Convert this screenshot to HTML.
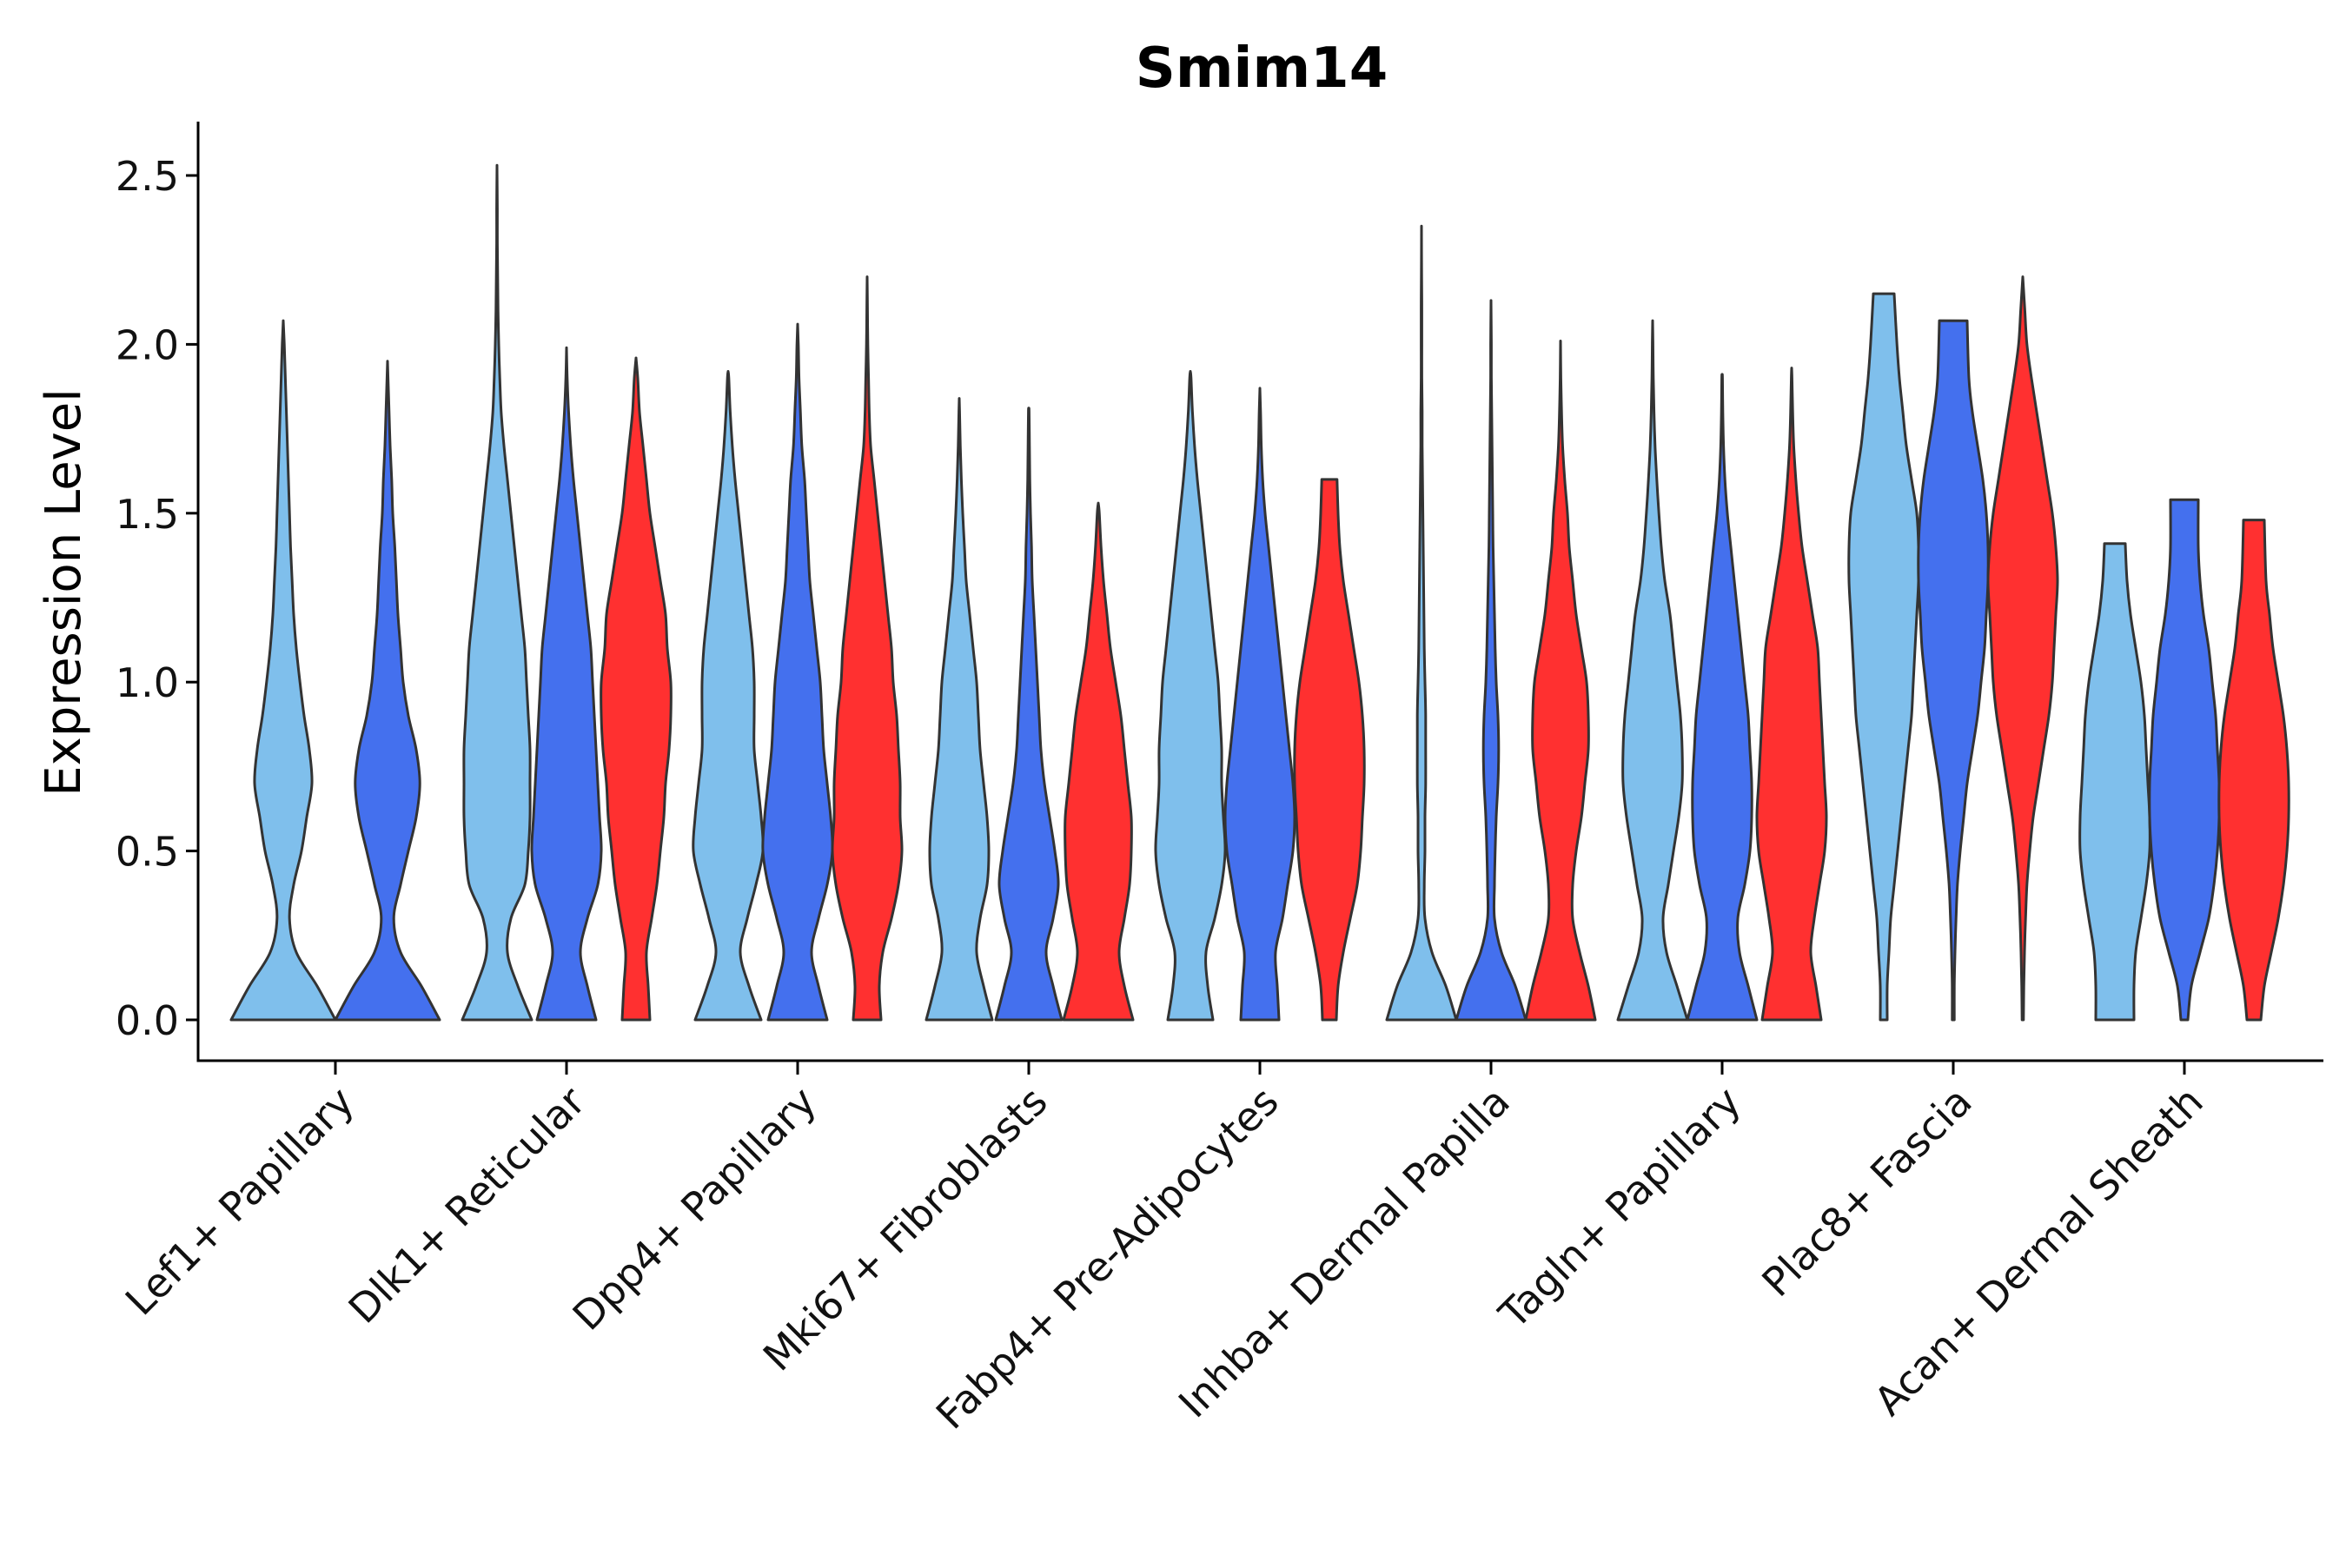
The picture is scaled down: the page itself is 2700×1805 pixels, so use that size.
<!DOCTYPE html>
<html><head><meta charset="utf-8"><style>body{margin:0;background:#fff}svg text{font-family:"DejaVu Sans","Liberation Sans",sans-serif}</style></head>
<body>
<svg id="chart" width="2700" height="1800" xmlns="http://www.w3.org/2000/svg">
<rect width="2700" height="1800" fill="#fff"/>
<text x="1452" y="100" font-size="64" font-weight="bold" text-anchor="middle">Smim14</text>
<text transform="translate(92,682) rotate(-90)" font-size="56" text-anchor="middle">Expression Level</text>
<g id="plot"></g>
</svg>
<script>
const categories=["Lef1+ Papillary","Dlk1+ Reticular","Dpp4+ Papillary","Mki67+ Fibroblasts","Fabp4+ Pre-Adipocytes","Inhba+ Dermal Papilla","Tagln+ Papillary","Plac8+ Fascia","Acan+ Dermal Sheath"];
const yTicks=[0,0.5,1,1.5,2,2.5];
const yTickLabels=["0.0","0.5","1.0","1.5","2.0","2.5"];
const groups=["g1","g2","g3"];
const groupColors=["#7FBFEC","#4470EE","#FF3030"];
const maxVals=[[2.07,1.95,null],[2.53,1.99,1.96],[1.92,2.06,2.2],[1.84,1.81,1.53],[1.92,1.87,1.6],[2.35,2.13,2.01],[2.07,1.91,1.93],[2.15,2.07,2.2],[1.41,1.54,1.48]];
const profiles=[
[[1,0.65,0.25,0.12,0.2,0.35,0.45,0.55,0.5,0.4,0.32,0.25,0.2,0.17,0.14,0.12,0.1,0.08,0.06,0.04,0.02,0],
 [1,0.65,0.25,0.12,0.25,0.4,0.55,0.62,0.55,0.4,0.3,0.25,0.2,0.17,0.14,0.1,0.08,0.05,0.03,0.01,0],null],
[[1,0.6,0.3,0.4,0.8,0.9,0.95,0.95,0.95,0.9,0.85,0.8,0.7,0.6,0.5,0.4,0.3,0.2,0.12,0.08,0.05,0.03,0.02,0.01,0.01,0],
 [0.85,0.6,0.4,0.6,0.9,1,0.95,0.9,0.85,0.8,0.75,0.7,0.6,0.5,0.4,0.3,0.2,0.12,0.06,0.02,0],
 [0.4,0.35,0.3,0.45,0.6,0.7,0.8,0.85,0.95,1,1,0.9,0.85,0.7,0.55,0.4,0.3,0.2,0.1,0.05,0]],
[[0.95,0.6,0.35,0.55,0.8,1,0.95,0.85,0.75,0.75,0.75,0.7,0.6,0.5,0.4,0.3,0.2,0.12,0.06,0.02,0],
 [0.85,0.6,0.4,0.6,0.85,1,0.95,0.85,0.75,0.7,0.65,0.55,0.45,0.35,0.3,0.25,0.2,0.12,0.08,0.04,0.02,0],
 [0.4,0.35,0.45,0.7,0.9,1,0.95,0.95,0.9,0.85,0.75,0.7,0.6,0.5,0.4,0.3,0.2,0.1,0.06,0.04,0.02,0.01,0]],
[[0.95,0.7,0.5,0.6,0.8,0.85,0.8,0.7,0.6,0.55,0.5,0.4,0.3,0.2,0.15,0.1,0.06,0.03,0.01,0],
 [0.95,0.7,0.5,0.7,0.85,0.75,0.6,0.45,0.35,0.3,0.25,0.2,0.15,0.1,0.08,0.05,0.03,0.02,0.01,0],
 [1,0.75,0.6,0.75,0.9,0.95,0.95,0.85,0.75,0.65,0.5,0.35,0.25,0.15,0.08,0.03,0]],
[[0.65,0.5,0.45,0.7,0.9,1,0.95,0.9,0.9,0.85,0.8,0.7,0.6,0.5,0.4,0.3,0.2,0.12,0.06,0.02,0],
 [0.55,0.5,0.45,0.65,0.8,0.95,1,0.95,0.85,0.75,0.65,0.55,0.45,0.35,0.25,0.15,0.08,0.04,0.02,0],
 [0.2,0.25,0.4,0.6,0.8,0.9,0.95,1,1,0.95,0.85,0.7,0.55,0.4,0.3,0.25,0.22]],
[[1,0.7,0.3,0.1,0.08,0.1,0.1,0.12,0.12,0.12,0.1,0.08,0.07,0.06,0.05,0.04,0.03,0.02,0.02,0.01,0.01,0.01,0.005,0],
 [1,0.7,0.3,0.1,0.1,0.12,0.15,0.2,0.22,0.2,0.15,0.12,0.1,0.08,0.06,0.05,0.04,0.03,0.02,0.01,0.01,0],
 [1,0.8,0.55,0.35,0.35,0.45,0.6,0.7,0.8,0.8,0.75,0.6,0.45,0.35,0.25,0.2,0.12,0.06,0.03,0.01,0]],
[[1,0.7,0.4,0.3,0.45,0.6,0.75,0.85,0.85,0.8,0.7,0.6,0.5,0.35,0.25,0.18,0.12,0.07,0.04,0.02,0.01,0],
 [1,0.75,0.5,0.45,0.65,0.8,0.85,0.85,0.8,0.75,0.65,0.55,0.45,0.35,0.25,0.15,0.08,0.04,0.02,0.01,0],
 [0.85,0.7,0.55,0.65,0.8,0.95,1,0.95,0.9,0.85,0.8,0.75,0.6,0.45,0.3,0.2,0.12,0.06,0.03,0.01,0]],
[[0.1,0.1,0.15,0.2,0.3,0.4,0.5,0.6,0.7,0.8,0.85,0.9,0.95,1,1,0.95,0.8,0.65,0.55,0.45,0.38,0.3],
 [0.03,0.03,0.05,0.08,0.12,0.2,0.3,0.4,0.55,0.7,0.8,0.9,0.95,1,1,0.95,0.85,0.7,0.55,0.45,0.4],
 [0.02,0.03,0.05,0.08,0.12,0.2,0.3,0.45,0.6,0.75,0.85,0.9,0.95,1,0.95,0.85,0.7,0.55,0.4,0.25,0.12,0.06,0]],
[[0.55,0.55,0.6,0.75,0.9,1,1,0.95,0.9,0.85,0.75,0.6,0.45,0.35,0.3],
 [0.1,0.2,0.45,0.7,0.85,0.95,1,1,0.95,0.9,0.8,0.7,0.55,0.45,0.4,0.4],
 [0.2,0.3,0.5,0.7,0.85,0.95,1,1,0.95,0.85,0.7,0.55,0.45,0.35,0.3]]
];
const NS="http://www.w3.org/2000/svg";
const plot=document.getElementById("plot");
const X0=228,X1=2674,Ybot=1221,Y0px=1174,pxPerUnit=388.8,catStep=266,firstCat=386;
function yScale(v){return Y0px-v*pxPerUnit;}
function xScale(i){return firstCat+i*catStep;}
function mk(tag,attrs){const e=document.createElementNS(NS,tag);for(const k in attrs)e.setAttribute(k,attrs[k]);plot.appendChild(e);return e;}
let ax=mk("line",{x1:X0,y1:140,x2:X0,y2:Ybot,stroke:"#000","stroke-width":3});

ax=mk("line",{x1:X0-1.5,y1:Ybot,x2:X1,y2:Ybot,stroke:"#000","stroke-width":3});

yTicks.forEach((t,i)=>{
  const y=yScale(t);
  const l=mk("line",{x1:X0-14,y1:y,x2:X0,y2:y,stroke:"#000","stroke-width":3});
  
  const tx=mk("text",{x:X0-22,y:y+17,"font-size":46,"text-anchor":"end",fill:"#111"});
  tx.textContent=yTickLabels[i];
  
});
function smoothPath(pts){
  let d="";
  for(let i=0;i<pts.length-1;i++){
    const p0=pts[Math.max(0,i-1)],p1=pts[i],p2=pts[i+1],p3=pts[Math.min(pts.length-1,i+2)];
    const c1=[p1[0]+(p2[0]-p0[0])/6,p1[1]+(p2[1]-p0[1])/6];
    const c2=[p2[0]-(p3[0]-p1[0])/6,p2[1]-(p3[1]-p1[1])/6];
    d+=` C${c1[0].toFixed(1)},${c1[1].toFixed(1)} ${c2[0].toFixed(1)},${c2[1].toFixed(1)} ${p2[0].toFixed(1)},${p2[1].toFixed(1)}`;
  }
  return d;
}
categories.forEach((cat,ci)=>{
  const cx=xScale(ci);
  const present=maxVals[ci].map((m,gi)=>m===null?-1:gi).filter(g=>g>=0);
  const n=present.length;
  const total=240, w=total/n;
  present.forEach((gi,k)=>{
    const vcx=cx-total/2+w*(k+0.5);
    const prof=profiles[ci][gi], mx=maxVals[ci][gi];
    const half=w/2;
    const right=prof.map((p,i)=>{const v=(i===prof.length-1)?mx:Math.min(i*0.1,mx);return [vcx+p*half,yScale(v)];});
    const left=right.slice().reverse().map(p=>[2*vcx-p[0],p[1]]);
    let d=`M${vcx-prof[0]*half},${yScale(0)} L${right[0][0]},${right[0][1]}`;
    d+=smoothPath(right);
    d+=` L${left[0][0]},${left[0][1]}`;
    d+=smoothPath(left)+" Z";
    const p=mk("path",{d:d,fill:groupColors[gi],stroke:"#333","stroke-width":3,"stroke-linejoin":"round"});
    
    
  });
  const t=mk("line",{x1:cx,y1:Ybot,x2:cx,y2:Ybot+16,stroke:"#000","stroke-width":3});
  
  const lb=mk("text",{transform:`translate(${cx+24},${Ybot+50}) rotate(-45)`,"font-size":46,"text-anchor":"end",fill:"#111"});
  lb.textContent=cat;
  
});
</script>
</body></html>
